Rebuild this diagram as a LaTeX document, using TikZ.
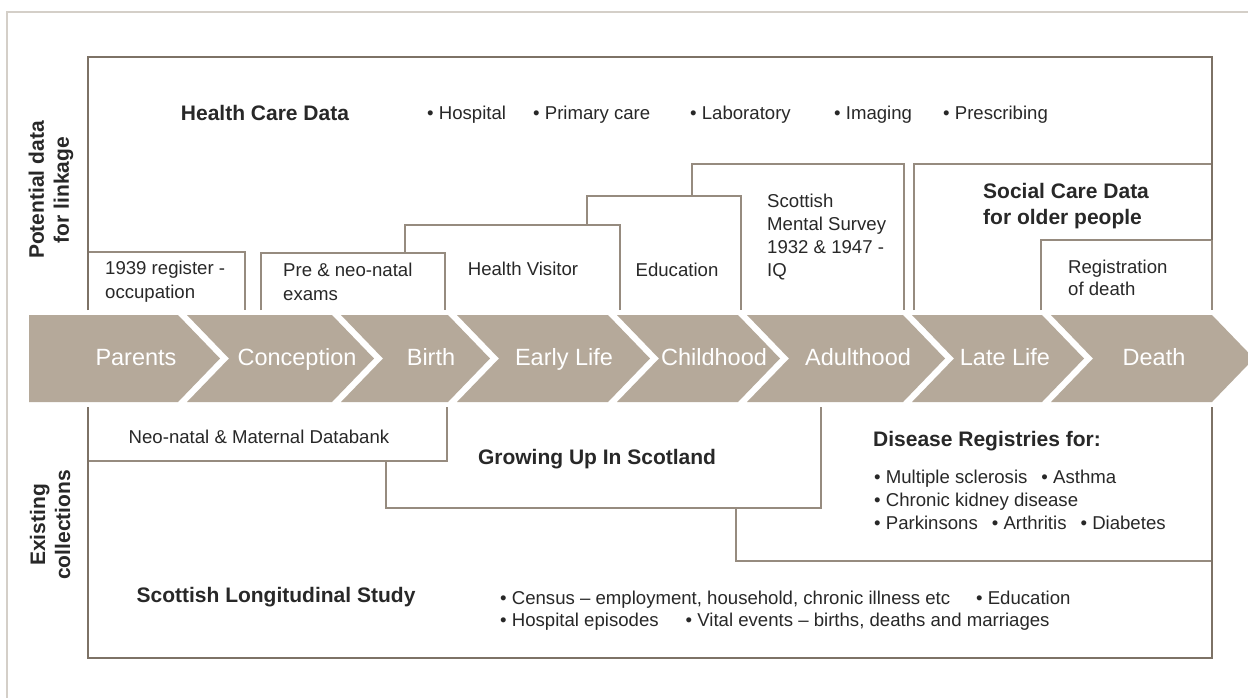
\documentclass[tikz,border=0pt]{standalone}
\usepackage{fontspec}
\setmainfont{Liberation Sans}
\definecolor{band}{RGB}{181,169,154}
\definecolor{boxline}{RGB}{150,139,127}
\definecolor{darkline}{RGB}{125,114,102}
\definecolor{framec}{RGB}{212,207,200}
\definecolor{txt}{RGB}{40,40,40}
\begin{document}
\begin{tikzpicture}[x=1pt,y=-1pt,
  reg/.style={font=\fontsize{18.6}{23}\selectfont, text=txt, inner sep=0pt, align=left},
  hd/.style={font=\fontsize{21}{25}\selectfont\bfseries, text=txt, inner sep=0pt, align=left},
  lbl/.style={font=\fontsize{23.5}{28}\selectfont, text=white, inner sep=0pt, text height=16.8pt, text depth=0pt},
  bl/.style={draw=boxline, line width=1.3pt},
  cl/.style={draw=darkline, line width=2pt},
]
\useasboundingbox (0,0) rectangle (1248,697);
\fill[white] (0,0) rectangle (1248,697);
% outer frame
\draw[framec, line width=1.5pt] (7,700) -- (7,12) -- (1250,12);

% ---------- top: potential data ----------
% Scottish Mental Survey box
\fill[white] (692,164) rectangle (904,310);
\draw[bl] (692,310) -- (692,164) -- (904,164) -- (904,310);
% Education
\fill[white] (587,196) rectangle (741,310);
\draw[bl] (587,310) -- (587,196) -- (741,196) -- (741,310);
% Health Visitor
\fill[white] (405,225) rectangle (620,310);
\draw[bl] (405,310) -- (405,225) -- (620,225) -- (620,310);
% Pre & neo-natal
\fill[white] (261,253) rectangle (445,310);
\draw[bl] (261,310) -- (261,253) -- (445,253) -- (445,310);
% 1939 register
\fill[white] (88,252) rectangle (245,310);
\draw[bl] (88,252) -- (245,252) -- (245,310);
% Social care
\fill[white] (914,164) rectangle (1212,310);
\draw[bl] (914,310) -- (914,164) -- (1212,164);
% Registration of death
\fill[white] (1041,240) rectangle (1212,310);
\draw[bl] (1041,310) -- (1041,240) -- (1212,240) -- (1212,310);
% Health care container
\draw[cl] (88,310) -- (88,57) -- (1212,57) -- (1212,240);

% ---------- bottom: existing collections ----------
\fill[white] (736,407) rectangle (1212,561);
\draw[bl] (736,407) -- (736,561) -- (1212,561);
\fill[white] (386,407) rectangle (821,508);
\draw[bl] (386,407) -- (386,508) -- (821,508) -- (821,407);
\fill[white] (88,407) rectangle (447,461);
\draw[bl] (88,461) -- (447,461) -- (447,407);
\draw[cl] (88,407) -- (88,658) -- (1212,658) -- (1212,407);

% ---------- life-course band ----------
\fill[band] (29,315) -- (178,315) -- (220,358.5) -- (178,402) -- (29,402) -- cycle;
\foreach \l/\r in {187/332, 341/448, 457/608, 617/738, 747/903, 912/1042, 1051/1212}
  \fill[band] (\l,315) -- (\r,315) -- (\r+42,358.5) -- (\r,402) -- (\l,402) -- (\l+42,358.5) -- cycle;

\node[lbl] (parents) at (136,357) {Parents};
\node[lbl] (conception) at (297,357) {Conception};
\node[lbl] (birth) at (431,357) {Birth};
\node[lbl] (early) at (564,357) {Early Life};
\node[lbl] (child) at (714,357) {Childhood};
\node[lbl] (adult) at (858,357) {Adulthood};
\node[lbl] (late) at (1005,357) {Late Life};
\node[lbl] (death) at (1154,357) {Death};

% ---------- side labels ----------
\node[hd, rotate=90, align=center] (pot) at (51,190) {Potential data\\for linkage};
\node[hd, rotate=90, align=center] (exi) at (50,525) {Existing\\collections};

% ---------- top texts ----------
\node[hd] (hcd) at (265,113) {Health Care Data};
\node[reg, anchor=west] (hc1) at (427,115) {• Hospital};
\node[reg, anchor=west] (hc2) at (533,115) {• Primary care};
\node[reg, anchor=west] (hc3) at (690,115) {• Laboratory};
\node[reg, anchor=west] (hc4) at (834,115) {• Imaging};
\node[reg, anchor=west] (hc5) at (943,115) {• Prescribing};

\node[reg, anchor=west, font=\fontsize{18.6}{24}\selectfont] (reg1939) at (105,282) {1939 register -\\occupation};
\node[reg, anchor=west, font=\fontsize{18.6}{24}\selectfont] (preneo) at (283,282) {Pre \& neo-natal\\exams};
\node[reg] (hv) at (523,269) {Health Visitor};
\node[reg] (edu) at (677,270) {Education};
\node[reg, anchor=west] (sms) at (767,237) {Scottish\\Mental Survey\\1932 \& 1947 -\\IQ};
\node[hd, anchor=west, font=\fontsize{21}{26}\selectfont\bfseries] (social) at (983,206) {Social Care Data\\for older people};
\node[reg, anchor=west, font=\fontsize{18.6}{22}\selectfont] (regdeath) at (1068,278) {Registration\\of death};

% ---------- bottom texts ----------
\node[reg] (neonatal) at (259,437) {Neo-natal \& Maternal Databank};
\node[hd] (gus) at (597,459) {Growing Up In Scotland};
\node[hd, anchor=west] (dis) at (873,441) {Disease Registries for:};
\node[reg, anchor=west] (disl) at (874,500) {• Multiple sclerosis\hspace{14pt}• Asthma\\• Chronic kidney disease\\• Parkinsons\hspace{14pt}• Arthritis\hspace{14pt}• Diabetes};
\node[hd] (sls) at (276,597) {Scottish Longitudinal Study};
\node[reg, anchor=west, font=\fontsize{18.6}{22}\selectfont] (slsl) at (500,611) {• Census – employment, household, chronic illness etc\hspace{26pt}• Education\\• Hospital episodes\hspace{27pt}• Vital events – births, deaths and marriages};
\end{tikzpicture}
\end{document}
